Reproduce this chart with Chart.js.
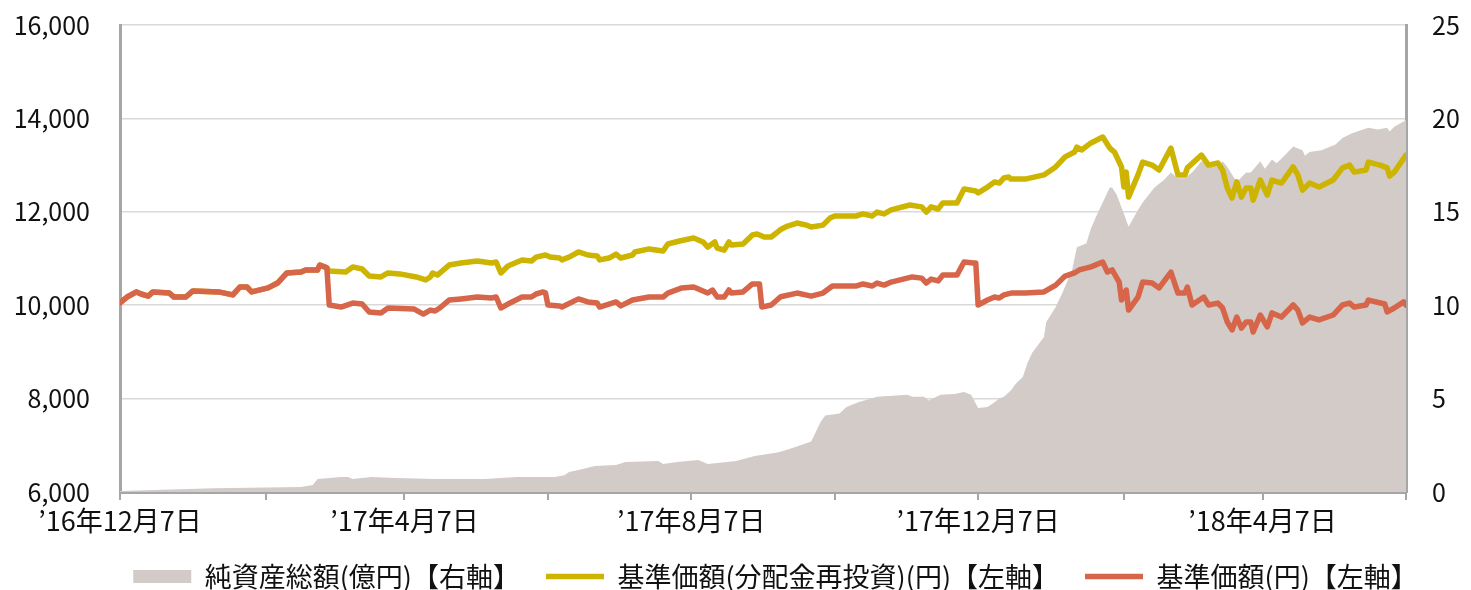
<!DOCTYPE html>
<html lang="ja">
<head>
<meta charset="utf-8">
<script src="https://cdn.jsdelivr.net/npm/chart.js@4.4.1/dist/chart.umd.min.js"></script>
<style>
  html, body { margin: 0; padding: 0; background: #fff; }
</style>
</head>
<body>
<canvas id="grafico" width="1471" height="590"></canvas>
<script>
// 経過日数は '16年12月7日 を 0 とした日数
const tickDates = ['2016-12-07', '2017-02-07', '2017-04-07', '2017-06-07', '2017-08-07',
                   '2017-10-07', '2017-12-07', '2018-02-07', '2018-04-07', '2018-06-07'];
const tickLabels = ['’16年12月7日', '', '’17年4月7日', '', '’17年8月7日',
                    '', '’17年12月7日', '', '’18年4月7日', ''];

// 基準価額(円)
const navDays = [
  0, 3, 7, 9, 12, 14, 21, 23, 28, 31,
  42, 48, 51, 54, 56, 63, 67, 71, 77, 79,
  84, 85, 87, 88, 89, 94, 99, 103, 106, 111,
  114, 125, 129, 132, 134, 136, 140, 145, 152, 158,
  160, 162, 165, 171, 175, 177, 180, 181, 182, 187,
  188, 195, 199, 203, 204, 211, 213, 218, 225, 231,
  233, 239, 244, 250, 252, 254, 257, 259, 260, 265,
  269, 272, 273, 277, 281, 288, 294, 299, 303, 313,
  316, 320, 322, 325, 328, 337, 341, 343, 345, 348,
  350, 356, 359, 363, 364, 365, 369, 372, 374, 376,
  379, 385, 393, 398, 402, 406, 408, 413, 418, 420,
  422, 425, 426, 428, 429, 433, 435, 439, 442, 447,
  450, 453, 454, 456, 461, 463, 467, 469, 471, 473,
  475, 477, 479, 481, 482, 485, 488, 490, 494, 499,
  501, 503, 506, 510, 516, 520, 523, 525, 530, 531,
  538, 539, 542, 546, 547
];
const navValues = [
  10050, 10175, 10285, 10240, 10195, 10285, 10260, 10175, 10175, 10305,
  10285, 10220, 10390, 10390, 10285, 10370, 10475, 10690, 10710, 10755,
  10755, 10860, 10820, 10800, 10005, 9960, 10045, 10025, 9855, 9835,
  9940, 9920, 9810, 9895, 9875, 9940, 10110, 10135, 10175, 10155,
  10175, 9940, 10025, 10175, 10175, 10240, 10285, 10260, 10005, 9985,
  9960, 10135, 10070, 10045, 9960, 10070, 9985, 10110, 10175, 10175,
  10260, 10370, 10390, 10260, 10325, 10175, 10175, 10325, 10260, 10285,
  10455, 10455, 9960, 10005, 10180, 10260, 10195, 10260, 10410, 10410,
  10455, 10410, 10475, 10430, 10495, 10605, 10580, 10475, 10560, 10520,
  10645, 10645, 10925, 10905, 10905, 10005, 10110, 10175, 10155, 10220,
  10260, 10260, 10285, 10430, 10625, 10690, 10755, 10820, 10925, 10710,
  10755, 10495, 10110, 10325, 9895, 10175, 10495, 10475, 10370, 10710,
  10260, 10260, 10390, 10005, 10175, 10005, 10045, 9940, 9640, 9470,
  9745, 9510, 9640, 9640, 9425, 9790, 9535, 9835, 9745, 10005,
  9895, 9620, 9745, 9685, 9790, 10005, 10045, 9960, 10005, 10110,
  10025, 9855, 9940, 10070, 10005
];

// 基準価額(分配金再投資)(円)
const reinvDays = [
  0, 3, 7, 9, 12, 14, 21, 23, 28, 31,
  42, 48, 51, 54, 56, 63, 67, 71, 77, 79,
  84, 85, 87, 88, 89, 96, 99, 103, 106, 111,
  114, 119, 126, 130, 132, 133, 135, 140, 145, 152,
  158, 160, 162, 165, 171, 175, 177, 181, 183, 187,
  188, 191, 195, 199, 203, 204, 208, 211, 213, 218,
  219, 225, 231, 233, 238, 244, 248, 250, 253, 254,
  257, 259, 260, 265, 269, 271, 274, 277, 281, 284,
  288, 292, 294, 299, 302, 304, 313, 316, 320, 322,
  325, 328, 336, 341, 343, 345, 348, 350, 356, 359,
  364, 365, 369, 372, 374, 376, 378, 379, 385, 393,
  398, 402, 406, 407, 409, 413, 418, 421, 423, 426,
  427, 428, 429, 433, 435, 439, 442, 447, 450, 453,
  454, 460, 463, 467, 469, 471, 473, 475, 477, 479,
  481, 482, 485, 488, 490, 494, 499, 501, 503, 506,
  510, 516, 520, 523, 525, 530, 531, 536, 539, 540,
  542, 547
];
const reinvValues = [
  10050, 10175, 10285, 10240, 10195, 10285, 10260, 10175, 10175, 10305,
  10285, 10220, 10390, 10390, 10285, 10370, 10475, 10690, 10710, 10755,
  10755, 10860, 10820, 10800, 10730, 10710, 10820, 10775, 10625, 10605,
  10690, 10670, 10605, 10540, 10605, 10690, 10645, 10860, 10905, 10945,
  10905, 10925, 10690, 10840, 10970, 10945, 11030, 11075, 11030, 11010,
  10970, 11030, 11140, 11075, 11055, 10970, 11010, 11095, 11010, 11075,
  11140, 11205, 11160, 11310, 11375, 11440, 11355, 11245, 11355, 11225,
  11180, 11355, 11290, 11310, 11505, 11525, 11460, 11460, 11620, 11695,
  11760, 11715, 11675, 11715, 11865, 11910, 11910, 11955, 11910, 11995,
  11955, 12040, 12145, 12105, 11995, 12105, 12060, 12190, 12190, 12490,
  12445, 12405, 12530, 12640, 12615, 12725, 12745, 12700, 12700, 12790,
  12960, 13175, 13280, 13385, 13325, 13475, 13600, 13365, 13280, 12960,
  12530, 12850, 12315, 12790, 13065, 13000, 12895, 13365, 12790, 12790,
  12940, 13215, 13000, 13045, 12895, 12510, 12295, 12640, 12315, 12510,
  12510, 12250, 12680, 12360, 12680, 12615, 12960, 12790, 12465, 12615,
  12530, 12680, 12940, 13000, 12850, 12895, 13065, 13000, 12940, 12765,
  12850, 13215
];

// 純資産総額(億円)
const assetDays = [
  0, 40, 77, 82, 84, 94, 97, 99, 107, 117,
  134, 155, 169, 178, 185, 189, 191, 195, 202, 211,
  215, 229, 231, 237, 246, 250, 262, 270, 279, 282,
  287, 294, 298, 300, 306, 309, 314, 322, 335, 337,
  342, 344, 349, 355, 359, 362, 365, 369, 372, 374,
  376, 379, 381, 384, 386, 388, 393, 394, 398, 401,
  405, 407, 411, 413, 415, 418, 421, 422, 424, 427,
  429, 433, 435, 440, 444, 447, 450, 453, 456, 460,
  462, 467, 469, 471, 475, 479, 481, 485, 487, 490,
  492, 496, 499, 503, 504, 506, 511, 517, 520, 524,
  531, 535, 539, 540, 542, 547
];
const assetValues = [
  0.05, 0.2, 0.27, 0.37, 0.7, 0.8, 0.8, 0.7, 0.8, 0.75,
  0.7, 0.7, 0.8, 0.8, 0.8, 0.9, 1.07, 1.18, 1.39, 1.45,
  1.6, 1.66, 1.5, 1.6, 1.71, 1.5, 1.66, 1.93, 2.1, 2.2,
  2.4, 2.7, 3.75, 4.1, 4.2, 4.55, 4.8, 5.1, 5.2, 5.1,
  5.1, 4.9, 5.2, 5.25, 5.35, 5.2, 4.5, 4.55, 4.8, 5.0,
  5.1, 5.45, 5.8, 6.15, 6.9, 7.45, 8.3, 9.1, 9.9, 10.7,
  11.9, 13.1, 13.3, 14.1, 14.7, 15.5, 16.3, 16.3, 15.9, 14.9,
  14.2, 15.1, 15.5, 16.3, 16.7, 17.1, 16.8, 16.8, 17.1, 17.7,
  17.6, 17.4, 17.7, 17.4, 16.6, 17.1, 17.1, 17.7, 17.3, 17.8,
  17.6, 18.1, 18.5, 18.3, 18.0, 18.2, 18.3, 18.6, 18.95, 19.2,
  19.5, 19.4, 19.5, 19.3, 19.55, 19.9
];

const base = Date.parse('2016-12-07');
const tickDays = tickDates.map(d => Math.round((Date.parse(d) - base) / 86400000));
const pares = (xs, ys) => xs.map((x, i) => ({ x: x, y: ys[i] }));

Chart.defaults.font.family = "'Noto Sans CJK JP', 'Noto Sans', sans-serif";
Chart.defaults.font.size = 25;
Chart.defaults.color = '#111';

const cinza = '#a6a6a6';

// 凡例を少し右へ寄せる
const deslocaLegenda = {
  id: 'deslocaLegenda',
  afterLayout(chart) {
    if (chart.legend) chart.legend.left = 80;
  }
};

const ctx = document.getElementById('grafico').getContext('2d');
new Chart(ctx, {
  type: 'line',
  data: {
    datasets: [{
      label: '純資産総額(億円)【右軸】',
      data: pares(assetDays, assetValues),
      yAxisID: 'y1',
      fill: 'origin',
      backgroundColor: '#d3cbc8',
      borderColor: '#d3cbc8',
      borderWidth: 0,
      pointRadius: 0,
      pointStyle: 'rect',
      order: 2
    }, {
      label: '基準価額(分配金再投資)(円)【左軸】',
      data: pares(reinvDays, reinvValues),
      yAxisID: 'y',
      borderColor: '#ccb400',
      backgroundColor: '#ccb400',
      borderWidth: 5.5,
      borderJoinStyle: 'round',
      borderCapStyle: 'round',
      pointRadius: 0,
      pointStyle: 'line',
      order: 1
    }, {
      label: '基準価額(円)【左軸】',
      data: pares(navDays, navValues),
      yAxisID: 'y',
      borderColor: '#d6654a',
      backgroundColor: '#d6654a',
      borderWidth: 5.5,
      borderJoinStyle: 'round',
      borderCapStyle: 'round',
      pointRadius: 0,
      pointStyle: 'line',
      order: 0
    }]
  },
  plugins: [deslocaLegenda],
  options: {
    responsive: false,
    animation: false,
    layout: { padding: { top: 25, left: 0, right: 0, bottom: 0 } },
    plugins: {
      tooltip: { enabled: false },
      legend: {
        position: 'bottom',
        maxHeight: 53,
        labels: {
          usePointStyle: true,
          pointStyleWidth: 58,
          boxHeight: 13,
          padding: 26,
          color: '#111',
          font: { size: 27 },
          sort: (a, b) => a.datasetIndex - b.datasetIndex
        }
      }
    },
    scales: {
      x: {
        type: 'linear',
        min: tickDays[0],
        max: tickDays[tickDays.length - 1],
        afterBuildTicks: (scale) => { scale.ticks = tickDays.map(v => ({ value: v })); },
        afterFit: (scale) => { scale.height = 45; },
        ticks: {
          autoSkip: false,
          maxRotation: 0,
          padding: 5,
          font: { size: 27 },
          callback: (v) => tickLabels[tickDays.indexOf(v)] || ''
        },
        grid: { drawOnChartArea: false, color: cinza, lineWidth: 2, tickLength: 8 },
        border: { color: cinza, width: 3 }
      },
      y: {
        position: 'left',
        min: 6000,
        max: 16000,
        afterFit: (scale) => { scale.width = 120; },
        ticks: {
          stepSize: 2000,
          padding: 0,
          callback: (v) => v.toLocaleString('en-US')
        },
        grid: { color: '#d9d9d9', lineWidth: 1.5, drawTicks: true, tickLength: 30, tickColor: 'rgba(0,0,0,0)' },
        border: { color: cinza, width: 3 }
      },
      y1: {
        position: 'right',
        min: 0,
        max: 25,
        afterFit: (scale) => { scale.width = 65; },
        ticks: { stepSize: 5, padding: 0 },
        grid: { drawOnChartArea: false, drawTicks: true, tickLength: 26, tickColor: 'rgba(0,0,0,0)' },
        border: { color: cinza, width: 3 }
      }
    }
  }
});
</script>
</body>
</html>
